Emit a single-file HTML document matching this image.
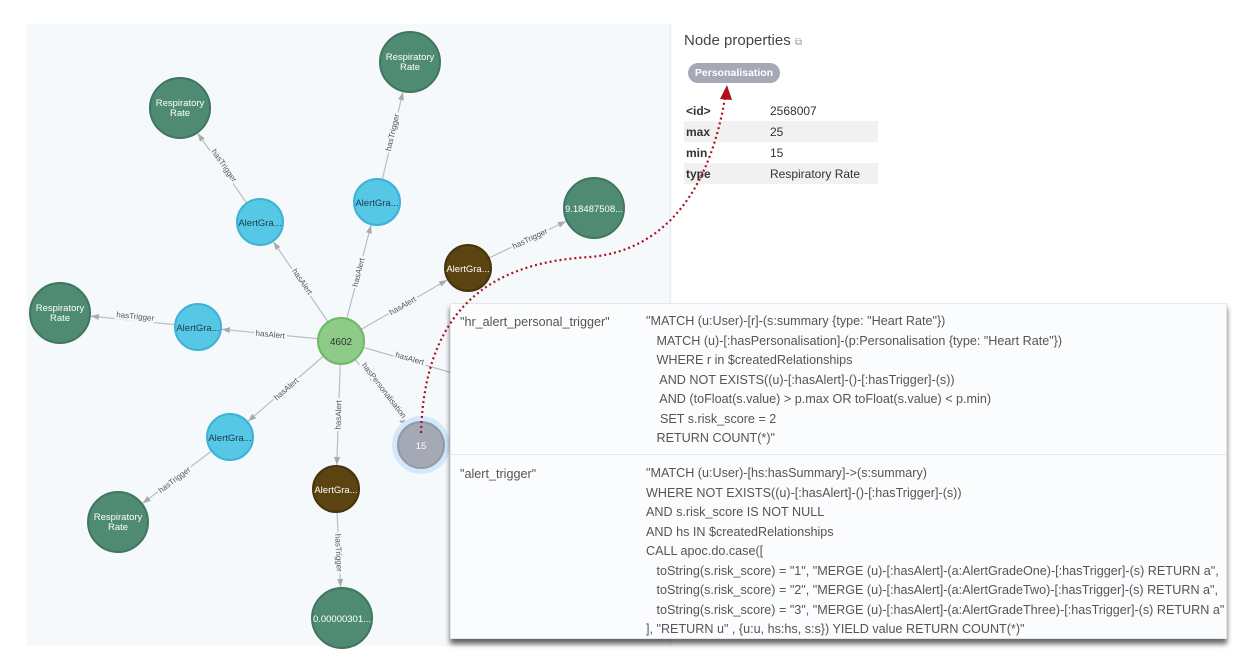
<!DOCTYPE html>
<html><head><meta charset="utf-8"><style>
body{margin:0;width:1256px;height:671px;background:#fff;position:relative;overflow:hidden;font-family:"Liberation Sans",sans-serif}
#canvas{position:absolute;left:27px;top:24px;width:645px;height:622px;background:#f6f9fc}
svg{position:absolute;left:0;top:0}
.pnl{position:absolute;left:684px;top:30px;color:#444}
.pnl h1{font-weight:normal;font-size:15px;margin:0;position:absolute;top:2px;left:0;white-space:nowrap;color:#444}
.pill{position:absolute;left:688px;top:63px;width:92px;height:20px;border-radius:10px;background:#a5a8b5;color:#fff;font-size:10.5px;font-weight:bold;text-align:center;line-height:20px}
table{position:absolute;left:684px;top:100px;border-collapse:collapse;font-size:12px;color:#333;width:194px}
td{height:21px;padding:0 0 0 2px}
tr:nth-child(even) td{background:#f1f1f1}
td.k{font-weight:bold;width:82px}
.pop{position:absolute;left:450px;top:303px;width:775px;height:334px;background:#fbfcfe;border:1px solid #e3e6ea;box-shadow:0 5px 5px rgba(0,0,0,.6);font-size:12.6px;color:#555}
.pop .l{position:absolute;left:9px;white-space:nowrap}
.pop .r{position:absolute;left:195px;white-space:pre;line-height:19.5px}
.div{position:absolute;left:0;right:0;top:150px;border-top:1px solid #e3e6ea}
</style></head><body>
<div id="canvas"></div>
<svg width="1256" height="671" viewBox="0 0 1256 671" font-family="Liberation Sans, sans-serif">
<defs>
<marker id="a23" markerUnits="userSpaceOnUse" markerWidth="40" markerHeight="10" refX="32" refY="3" orient="auto" style="overflow:visible"><path d="M0,0 L8,3 L0,6z" fill="#aaa"/></marker>
<marker id="a30" markerUnits="userSpaceOnUse" markerWidth="45" markerHeight="10" refX="39" refY="3" orient="auto" style="overflow:visible"><path d="M0,0 L8,3 L0,6z" fill="#aaa"/></marker>
</defs>
<g stroke="#b9bcc2" stroke-width="1.2">
<line x1="341" y1="341" x2="260" y2="222" marker-end="url(#a23)"/>
<line x1="341" y1="341" x2="377" y2="202" marker-end="url(#a23)"/>
<line x1="341" y1="341" x2="198" y2="327" marker-end="url(#a23)"/>
<line x1="341" y1="341" x2="230" y2="437" marker-end="url(#a23)"/>
<line x1="341" y1="341" x2="468" y2="268" marker-end="url(#a23)"/>
<line x1="341" y1="341" x2="336" y2="489" marker-end="url(#a23)"/>
<line x1="341" y1="341" x2="421" y2="445" marker-end="url(#a23)"/>
<line x1="341" y1="341" x2="470" y2="378"/>
<line x1="260" y1="222" x2="180" y2="108" marker-end="url(#a30)"/>
<line x1="377" y1="202" x2="410" y2="62" marker-end="url(#a30)"/>
<line x1="198" y1="327" x2="60" y2="313" marker-end="url(#a30)"/>
<line x1="230" y1="437" x2="118" y2="522" marker-end="url(#a30)"/>
<line x1="468" y1="268" x2="594" y2="208" marker-end="url(#a30)"/>
<line x1="336" y1="489" x2="342" y2="618" marker-end="url(#a30)"/>
</g>
<g font-size="8" fill="#555" text-anchor="middle" stroke="#f6f9fc" stroke-width="4" paint-order="stroke">
<text transform="translate(300,283) rotate(55.8)">hasAlert</text>
<text transform="translate(361,273) rotate(-75.5)">hasAlert</text>
<text transform="translate(270,337) rotate(5.6)">hasAlert</text>
<text transform="translate(288,391) rotate(-40.9)">hasAlert</text>
<text transform="translate(404,308) rotate(-29.9)">hasAlert</text>
<text transform="translate(341,415) rotate(-88)">hasAlert</text>
<text transform="translate(382,392) rotate(52.4)">hasPersonalisation</text>
<text transform="translate(409,361) rotate(16)">hasAlert</text>
<text transform="translate(222,167) rotate(55)">hasTrigger</text>
<text transform="translate(395,133) rotate(-76.7)">hasTrigger</text>
<text transform="translate(135,319) rotate(5.8)">hasTrigger</text>
<text transform="translate(176,482) rotate(-37)">hasTrigger</text>
<text transform="translate(531,241) rotate(-25.5)">hasTrigger</text>
<text transform="translate(336,553) rotate(87.3)">hasTrigger</text>
</g>
<g stroke-width="2">
<circle cx="410" cy="62" r="30" fill="#4f8b73" stroke="#3f765f"/>
<circle cx="180" cy="108" r="30" fill="#4f8b73" stroke="#3f765f"/>
<circle cx="60" cy="313" r="30" fill="#4f8b73" stroke="#3f765f"/>
<circle cx="118" cy="522" r="30" fill="#4f8b73" stroke="#3f765f"/>
<circle cx="594" cy="208" r="30" fill="#4f8b73" stroke="#3f765f"/>
<circle cx="342" cy="618" r="30" fill="#4f8b73" stroke="#3f765f"/>
<circle cx="260" cy="222" r="23" fill="#57c7e6" stroke="#3db2d6"/>
<circle cx="377" cy="202" r="23" fill="#57c7e6" stroke="#3db2d6"/>
<circle cx="198" cy="327" r="23" fill="#57c7e6" stroke="#3db2d6"/>
<circle cx="230" cy="437" r="23" fill="#57c7e6" stroke="#3db2d6"/>
<circle cx="468" cy="268" r="23" fill="#5b4411" stroke="#46340a"/>
<circle cx="336" cy="489" r="23" fill="#5b4411" stroke="#46340a"/>
<circle cx="341" cy="341" r="23" fill="#8ecb89" stroke="#70b66c"/>
<circle cx="421" cy="445" r="29" fill="#d2e9fb" stroke="none"/>
<circle cx="421" cy="445" r="23" fill="#a5a8b5" stroke="#9598a6"/>
</g>
<g font-size="9.5" fill="#fff" text-anchor="middle">
<text x="410" y="60">Respiratory</text><text x="410" y="70">Rate</text>
<text x="180" y="106">Respiratory</text><text x="180" y="116">Rate</text>
<text x="60" y="311">Respiratory</text><text x="60" y="321">Rate</text>
<text x="118" y="520">Respiratory</text><text x="118" y="530">Rate</text>
<text x="594" y="212">9.18487508...</text>
<text x="342" y="622">0.00000301...</text>
<text x="468" y="272">AlertGra...</text>
<text x="336" y="493">AlertGra...</text>
<text x="421" y="449">15</text>
<g fill="#1c3a4a"><text x="260" y="226">AlertGra...</text><text x="377" y="206">AlertGra...</text><text x="198" y="331">AlertGra...</text><text x="230" y="441">AlertGra...</text></g>
<text x="341" y="345" fill="#333" font-size="10">4602</text>
</g>
<line x1="670" y1="24" x2="670" y2="646" stroke="#e6e9ee"/>
</svg>
<div class="pnl"><h1>Node properties <span style="font-size:10px;color:#999">⧉</span></h1></div>
<div class="pill">Personalisation</div>
<table>
<tr><td class="k">&lt;id&gt;</td><td>2568007</td></tr>
<tr><td class="k">max</td><td>25</td></tr>
<tr><td class="k">min</td><td>15</td></tr>
<tr><td class="k">type</td><td>Respiratory Rate</td></tr>
</table>
<div class="pop">
<div class="l" style="top:11px">"hr_alert_personal_trigger"</div>
<div class="r" style="top:8px">"MATCH (u:User)-[r]-(s:summary {type: "Heart Rate"})
   MATCH (u)-[:hasPersonalisation]-(p:Personalisation {type: "Heart Rate"})
   WHERE r in $createdRelationships
    AND NOT EXISTS((u)-[:hasAlert]-()-[:hasTrigger]-(s))
    AND (toFloat(s.value) &gt; p.max OR toFloat(s.value) &lt; p.min)
    SET s.risk_score = 2
   RETURN COUNT(*)"</div>
<div class="div"></div>
<div class="l" style="top:163px">"alert_trigger"</div>
<div class="r" style="top:160px">"MATCH (u:User)-[hs:hasSummary]-&gt;(s:summary)
WHERE NOT EXISTS((u)-[:hasAlert]-()-[:hasTrigger]-(s))
AND s.risk_score IS NOT NULL
AND hs IN $createdRelationships
CALL apoc.do.case([
   toString(s.risk_score) = "1", "MERGE (u)-[:hasAlert]-(a:AlertGradeOne)-[:hasTrigger]-(s) RETURN a",
   toString(s.risk_score) = "2", "MERGE (u)-[:hasAlert]-(a:AlertGradeTwo)-[:hasTrigger]-(s) RETURN a",
   toString(s.risk_score) = "3", "MERGE (u)-[:hasAlert]-(a:AlertGradeThree)-[:hasTrigger]-(s) RETURN a"
], "RETURN u" , {u:u, hs:hs, s:s}) YIELD value RETURN COUNT(*)"</div>
</div>
<svg width="1256" height="671" style="pointer-events:none">
<path d="M421,433 C425,300 500,262 590,257 C650,252 706,210 725,98" fill="none" stroke="#b0101e" stroke-width="2.2" stroke-dasharray="2,3"/>
<path d="M720,99 L727,85 L732,100z" fill="#b0101e"/>
</svg>
</body></html>
